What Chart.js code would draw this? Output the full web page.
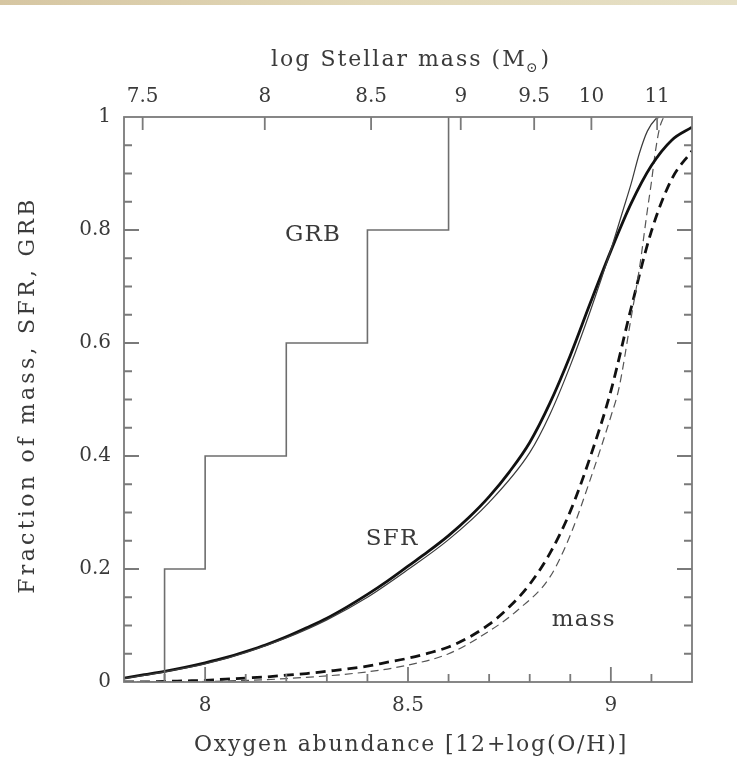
<!DOCTYPE html>
<html>
<head>
<meta charset="utf-8">
<script src="https://cdn.jsdelivr.net/npm/chart.js@4"></script>
<style>
  html, body { margin: 0; padding: 0; background: #fff; }
  #band { position: absolute; left: 0; top: 0; width: 737px; height: 5px; z-index: 2;
          background: linear-gradient(to right, #d6c6a2, #e2d8b8 50%, #e6e0c6); }
  #wrap { position: absolute; left: 0; top: 0; width: 737px; height: 772px; }
</style>
</head>
<body>
<div id="band"></div>
<div id="wrap"><canvas id="MetalChart" width="737" height="772"></canvas></div>
<script>
// cumulative fractions vs oxygen abundance
var sfrX     = [7.80, 7.85, 7.90, 7.95, 8.00, 8.05, 8.10, 8.15, 8.20, 8.25, 8.30, 8.35, 8.40, 8.45, 8.50,
                8.55, 8.60, 8.65, 8.70, 8.75, 8.80, 8.85, 8.90, 8.95, 9.00, 9.05, 9.10, 9.15, 9.20];
var sfrThick = [0.007, 0.013, 0.019, 0.026, 0.034, 0.043, 0.054, 0.066, 0.080, 0.096, 0.113, 0.133, 0.155, 0.179, 0.205,
                0.231, 0.259, 0.291, 0.328, 0.372, 0.424, 0.494, 0.578, 0.672, 0.763, 0.847, 0.914, 0.959, 0.982];

var sfrThinX = [7.80, 7.90, 8.00, 8.10, 8.20, 8.30, 8.40, 8.50, 8.60, 8.70, 8.80, 8.85, 8.90, 8.95, 9.00, 9.03, 9.05, 9.07, 9.09, 9.11, 9.12];
var sfrThin  = [0.006, 0.018, 0.032, 0.052, 0.078, 0.110, 0.150, 0.199, 0.252, 0.318, 0.406, 0.474, 0.560, 0.658, 0.765, 0.835, 0.882, 0.935, 0.975, 0.996, 1.000];

var massX     = [7.80, 7.85, 7.90, 7.95, 8.00, 8.05, 8.10, 8.15, 8.20, 8.25, 8.30, 8.35, 8.40, 8.45, 8.50,
                 8.55, 8.60, 8.65, 8.70, 8.75, 8.80, 8.85, 8.90, 8.95, 9.00, 9.05, 9.10, 9.15, 9.20];
var massThick = [0.000, 0.000, 0.001, 0.002, 0.003, 0.005, 0.007, 0.009, 0.012, 0.015, 0.019, 0.023, 0.028, 0.035, 0.042,
                 0.051, 0.062, 0.079, 0.102, 0.133, 0.173, 0.228, 0.302, 0.400, 0.515, 0.662, 0.798, 0.890, 0.940];

var massThinX = [7.80, 8.00, 8.20, 8.40, 8.50, 8.60, 8.70, 8.77, 8.85, 8.90, 8.95, 9.00, 9.02, 9.05, 9.07, 9.09, 9.10, 9.11, 9.12, 9.13];
var massThin  = [0.000, 0.001, 0.006, 0.018, 0.030, 0.050, 0.090, 0.127, 0.186, 0.260, 0.360, 0.470, 0.520, 0.645, 0.730, 0.835, 0.885, 0.940, 0.980, 1.000];

// GRB host fraction, step edges
var grbX = [7.9, 7.9, 8.0, 8.2, 8.4, 8.6];
var grbY = [0.0, 0.2, 0.4, 0.6, 0.8, 1.0];

// ticks
var bottomTicks   = [8, 8.5, 9];
var leftTicks     = [0, 0.2, 0.4, 0.6, 0.8, 1];
var topTickPos    = [7.846, 8.147, 8.409, 8.630, 8.811, 8.952, 9.114];
var topTickLabels = ['7.5', '8', '8.5', '9', '9.5', '10', '11'];

var fontName = '"DejaVu Serif", "Liberation Serif", serif';
var textColor = '#3a3a3a';
var frameColor = '#7a7a7a';

function pts(xs, ys) {
  return xs.map(function (x, i) { return {x: x, y: ys[i]}; });
}

var framePlugin = {
  id: 'frame',
  afterDraw: function (chart) {
    var ctx = chart.ctx, a = chart.chartArea;
    var sx = chart.scales.x, sy = chart.scales.y;
    ctx.save();
    ctx.strokeStyle = frameColor;
    ctx.lineWidth = 1.8;
    ctx.strokeRect(a.left, a.top, a.right - a.left, a.bottom - a.top);

    ctx.beginPath();
    // bottom, inward ticks every 0.1
    for (var k = 79; k <= 91; k++) {
      var px = sx.getPixelForValue(k / 10);
      var len = (k % 5 === 0) ? 15 : 8;
      ctx.moveTo(px, a.bottom); ctx.lineTo(px, a.bottom - len);
    }
    // left and right, every 0.05
    for (var j = 1; j <= 19; j++) {
      var py = sy.getPixelForValue(j / 20);
      var l2 = (j % 4 === 0) ? 15 : 8;
      ctx.moveTo(a.left, py); ctx.lineTo(a.left + l2, py);
      ctx.moveTo(a.right, py); ctx.lineTo(a.right - l2, py);
    }
    // top, stellar mass ticks
    topTickPos.forEach(function (v) {
      var p = sx.getPixelForValue(v);
      ctx.moveTo(p, a.top); ctx.lineTo(p, a.top + 13);
    });
    ctx.stroke();

    // curve labels
    ctx.fillStyle = textColor;
    ctx.font = '23px ' + fontName;
    ctx.letterSpacing = '1.2px';
    ctx.textAlign = 'center';
    ctx.textBaseline = 'middle';
    ctx.fillText('GRB', sx.getPixelForValue(8.266), sy.getPixelForValue(0.791));
    ctx.fillText('SFR', sx.getPixelForValue(8.461), sy.getPixelForValue(0.253));
    ctx.fillText('mass', sx.getPixelForValue(8.933), sy.getPixelForValue(0.110));

    // axis titles
    ctx.font = '22px ' + fontName;
    ctx.letterSpacing = '1.8px';
    ctx.fillText('Oxygen abundance [12+log(O/H)]', 411, a.bottom + 63);

    ctx.save();
    ctx.letterSpacing = '3.3px';
    ctx.translate(28, 395);
    ctx.rotate(-Math.PI / 2);
    ctx.fillText('Fraction of mass, SFR, GRB', 0, 0);
    ctx.restore();

    // top title with solar subscript
    var main = 'log Stellar mass (M';
    ctx.textAlign = 'left';
    ctx.letterSpacing = '2px';
    var w1 = ctx.measureText(main).width;
    ctx.font = '14px ' + fontName;
    var w2 = ctx.measureText('\u2299').width;
    ctx.font = '22px ' + fontName;
    var w3 = ctx.measureText(')').width;
    var x0 = 411 - (w1 + w2 + w3) / 2;
    var ty = a.top - 57;
    ctx.fillText(main, x0, ty);
    ctx.font = '14px ' + fontName;
    ctx.fillText('\u2299', x0 + w1 - 1, ty + 8);
    ctx.font = '22px ' + fontName;
    ctx.fillText(')', x0 + w1 + w2, ty);
    ctx.restore();
  }
};

var tickFont = {family: fontName, size: 20};

var ctx = document.getElementById('MetalChart').getContext('2d');
var MetalChart = new Chart(ctx, {
  type: 'line',
  data: {
    datasets: [
      {label: 'GRB', data: pts(grbX, grbY), stepped: true, borderColor: '#6e6e6e', borderWidth: 1.6, pointRadius: 0},
      {label: 'SFR thin', data: pts(sfrThinX, sfrThin), borderColor: '#3a3a3a', borderWidth: 1.2, pointRadius: 0, cubicInterpolationMode: 'monotone'},
      {label: 'SFR', data: pts(sfrX, sfrThick), borderColor: '#111', borderWidth: 2.8, pointRadius: 0, cubicInterpolationMode: 'monotone'},
      {label: 'mass thin', data: pts(massThinX, massThin), borderColor: '#555', borderWidth: 1.2, borderDash: [8, 5], pointRadius: 0, cubicInterpolationMode: 'monotone'},
      {label: 'mass', data: pts(massX, massThick), borderColor: '#111', borderWidth: 2.8, borderDash: [10, 6], pointRadius: 0, cubicInterpolationMode: 'monotone'}
    ]
  },
  options: {
    responsive: false,
    animation: false,
    layout: {padding: 0},
    plugins: {legend: {display: false}, tooltip: {enabled: false}},
    scales: {
      x: {
        type: 'linear', position: 'bottom', min: 7.8, max: 9.2,
        afterBuildTicks: function (s) { s.ticks = bottomTicks.map(function (v) { return {value: v}; }); },
        afterFit: function (s) { s.height = 90; },
        ticks: {font: tickFont, color: textColor, padding: 12, maxRotation: 0, autoSkip: false,
                callback: function (v) { return String(v); }},
        grid: {display: false, drawTicks: false},
        border: {display: false}
      },
      xTop: {
        type: 'linear', position: 'top', min: 7.8, max: 9.2,
        afterBuildTicks: function (s) { s.ticks = topTickPos.map(function (v) { return {value: v}; }); },
        afterFit: function (s) { s.height = 117; },
        ticks: {font: tickFont, color: textColor, padding: 8, maxRotation: 0, autoSkip: false,
                callback: function (v, i) { return topTickLabels[i]; }},
        grid: {display: false, drawTicks: false},
        border: {display: false}
      },
      y: {
        type: 'linear', position: 'left', min: 0, max: 1,
        afterBuildTicks: function (s) { s.ticks = leftTicks.map(function (v) { return {value: v}; }); },
        afterFit: function (s) { s.width = 124; },
        ticks: {font: tickFont, color: textColor, padding: 13,
                callback: function (v) { return String(Math.round(v * 10) / 10); }},
        grid: {display: false, drawTicks: false},
        border: {display: false}
      },
      yRight: {
        type: 'linear', position: 'right', min: 0, max: 1,
        afterFit: function (s) { s.width = 45; },
        ticks: {display: false},
        grid: {display: false, drawTicks: false},
        border: {display: false}
      }
    }
  },
  plugins: [framePlugin]
});
</script>
</body>
</html>
